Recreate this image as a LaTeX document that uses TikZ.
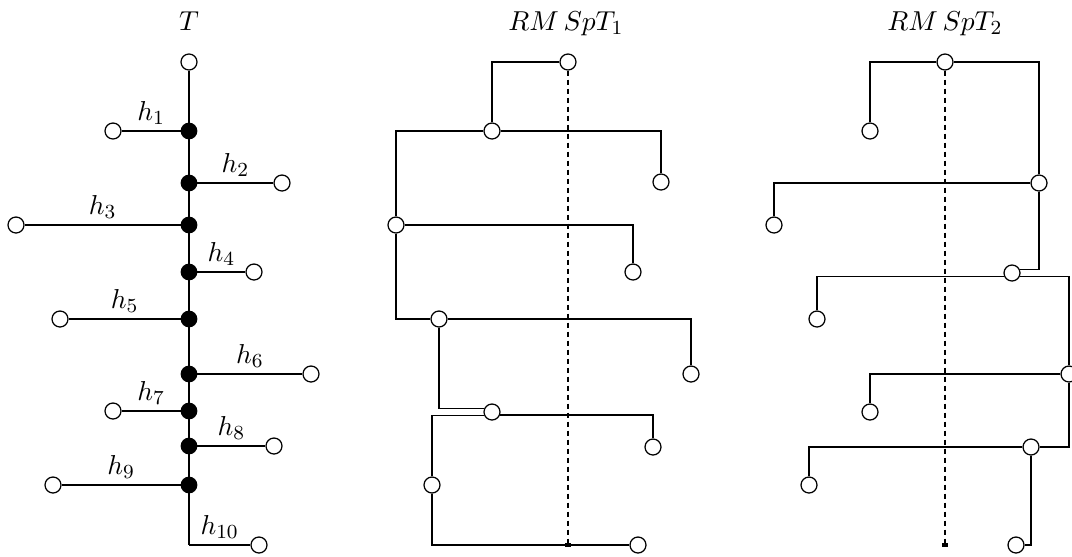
\documentclass[tikz,border=0pt]{standalone}
\tikzset{
    vtx/.style={circle,draw,fill=white,minimum size=6.4pt,inner sep=0pt},
    ivtx/.style={circle,draw,fill=black,minimum size=6.2pt,inner sep=0pt},
    lbl/.style={midway,above,inner sep=2.3pt},
    axis/.style={line width=0.9pt,dash pattern=on 2.2pt off 1.4pt},
}
\begin{document}
\begin{tikzpicture}[x=0.4pt,y=-0.4pt,line width=0.5pt,font=\fontsize{11}{13}\selectfont]
        \useasboundingbox (0,0) rectangle (1072,556);
        %% Titles
        \node[anchor=base] (tT) at (189,30) {$T$};
        \node[anchor=base] (tA) at (566,30) {$RM\,SpT_1$};
        \node[anchor=base] (tB) at (945,30) {$RM\,SpT_2$};
        %% Tree T
        \node[vtx] (t0) at (189,62) {};
        \foreach \i/\y/\lx in {1/131/113, 2/183/282, 3/225/16, 4/272/254, 5/319/60, 6/374/311, 7/411/113, 8/446/274, 9/485/53} {
            \node[ivtx] (s\i) at (189,\y) {};
            \node[vtx] (l\i) at (\lx,\y) {};
            \draw (s\i) -- (l\i) node[lbl] {$h_{\i}$};
        }
        \coordinate (c10) at (189,545);
        \node[vtx] (l10) at (259,545) {};
        \draw (t0) \foreach \i in {1,...,9} { -- (s\i) } -- (c10);
        \draw (c10) -- (l10) node[lbl] {$h_{10}$};
        %% RMSpT_1
        \foreach \n/\x/\y in {ra/568/62, a1/492/131, a2/661/182, a3/396/225, a4/633/272, a5/439/319, a6/691/374, a7/492/412, a8/653/447, a9/432/485, a10/638/545} {
            \node[vtx] (\n) at (\x,\y) {};
        }
        \draw (ra) -| (a1);
        \draw (a1) -| (a2);
        \draw (a1) -| (a3);
        \draw (a3) -| (a4);
        \draw (a3) |- (a5);
        \draw (a5) -| (a6);
        \draw (a5) |- (a7.154);
        \draw (a7.340) -| (a8);
        \draw (a7.206) -| (a9);
        \draw (a9) |- (a10);
        \coordinate (ba) at (568,545);
        \draw[axis] (ra) -- (ba);
        \fill (ba) +(-3,-2) rectangle +(3,2);
        %% RMSpT_2
        \foreach \n/\x/\y in {rb/945/62, b1/870/131, b2/1039/183, b3/774/225, b4/1012/273, b5/817/319, b6/1069/374, b7/870/412, b8/1031/447, b9/809/485, b10/1016/545} {
            \node[vtx] (\n) at (\x,\y) {};
        }
        \draw (rb) -| (b1);
        \draw (rb) -| (b2);
        \draw (b2) -| (b3);
        \draw (b2) |- (b4.25);
        \draw (b4.205) -| (b5);
        \draw (b4.335) -| (b6);
        \draw (b6) -| (b7);
        \draw (b6) |- (b8);
        \draw (b8) -| (b9);
        \draw (b8) |- (b10);
        \coordinate (bb) at (945,545);
        \draw[axis] (rb) -- (bb);
        \fill (bb) +(-3,-2) rectangle +(3,2);
\end{tikzpicture}
\end{document}
